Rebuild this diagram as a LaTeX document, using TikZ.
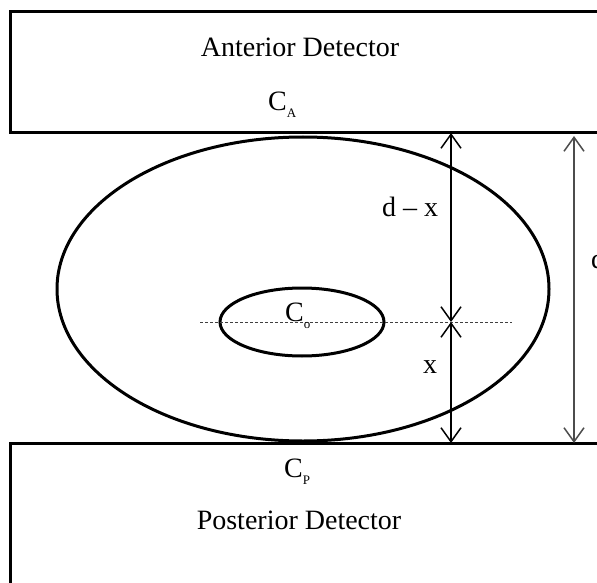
\documentclass[tikz,border=0pt]{standalone}
\usepackage{fontspec}
\setmainfont{Liberation Serif}
\usetikzlibrary{arrows.meta,shapes.geometric}
\newcommand{\lowsub}[1]{\raisebox{-7pt}{\fontsize{13}{13}\selectfont #1}}

\begin{document}
\begin{tikzpicture}[x=1pt,y=-1pt,
    >={Straight Barb[length=14pt,width=20pt]},
    detector/.style={draw,line width=3pt,inner sep=0pt},
    body/.style={ellipse,draw,line width=3pt,inner sep=0pt},
    label/.style={font=\fontsize{28}{32}\selectfont,inner sep=0pt},
    gap/.style={<->,line width=1.5pt}
  ]
  \path[use as bounding box,clip] (0,0) rectangle (597,583);

  % detectors
  \node[detector,minimum width=640pt,minimum height=121pt] (anterior) at (330,72.5) {};
  \node[detector,minimum width=640pt,minimum height=200pt] (posterior) at (330,543) {};
  \node[label,anchor=base] (antlabel) at (300,57) {Anterior Detector};
  \node[label,anchor=base west] (cA) at (268,111) {C\lowsub{A}};
  \node[label,anchor=base west] (cP) at (284,477) {C\lowsub{P}};
  \node[label,anchor=base] (postlabel) at (299,529) {Posterior Detector};

  % patient body and source
  \node[body,minimum width=492pt,minimum height=304pt] (outer) at (303,289) {};
  \node[body,minimum width=164pt,minimum height=68pt] (inner) at (302,322) {};
  \coordinate (dl) at (200,322);
  \coordinate (dr) at (512,322);
  \draw[dashed,black!75,dash pattern=on 3pt off 2pt] (dl) -- (dr);
  \node[label,anchor=base west] (cO) at (285,321) {C\lowsub{o}};

  % distances
  \coordinate (atop) at (451,133);
  \coordinate (amid) at (451,322);
  \coordinate (abot) at (451,443);
  \coordinate (dtop) at (574,136);
  \coordinate (dbot) at (574,443);
  \draw[gap] (atop) -- (amid);
  \draw[gap] (amid) -- (abot);
  \draw[gap,black!70] (dtop) -- (dbot);
  \node[label,anchor=base] (dmx) at (410,216) {d -- x};
  \node[label,anchor=base] (xlab) at (430,373) {x};
  \node[label,anchor=base west] (dlab) at (591,268) {d};
\end{tikzpicture}
\end{document}
